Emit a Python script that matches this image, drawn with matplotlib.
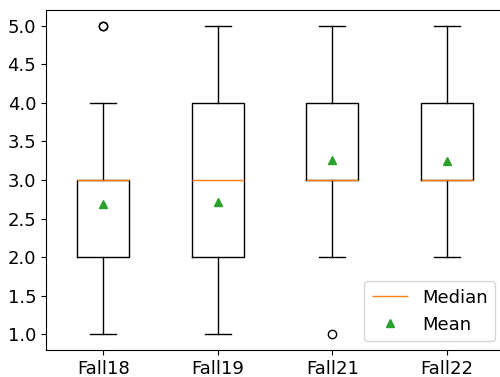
import matplotlib
matplotlib.use("Agg")
import matplotlib.pyplot as plt

labels = ["Fall18", "Fall19", "Fall21", "Fall22"]
q1 = [2.0, 2.0, 3.0, 3.0]
med = [3.0, 3.0, 3.0, 3.0]
q3 = [3.0, 4.0, 4.0, 4.0]
whislo = [1.0, 1.0, 2.0, 2.0]
whishi = [4.0, 5.0, 5.0, 5.0]
means = [2.69, 2.71, 3.26, 3.245]
fliers = [[5.0, 5.0], [], [1.0], []]

stats = [dict(label=l, q1=a, med=m, q3=b, whislo=lo, whishi=hi, mean=mu, fliers=f)
         for l, a, m, b, lo, hi, mu, f in zip(labels, q1, med, q3, whislo, whishi, means, fliers)]

plt.rcParams["font.size"] = 13
fig, ax = plt.subplots(figsize=(5, 3.77), dpi=100)
res = ax.bxp(stats, showmeans=True)
ax.legend([res["medians"][0], res["means"][0]], ["Median", "Mean"], loc="lower right")
# right spine sits just outside the saved image, as in the reference crop
fig.subplots_adjust(left=0.092, right=1.008, top=0.973, bottom=0.072)
fig.savefig("out.png", dpi=100)
